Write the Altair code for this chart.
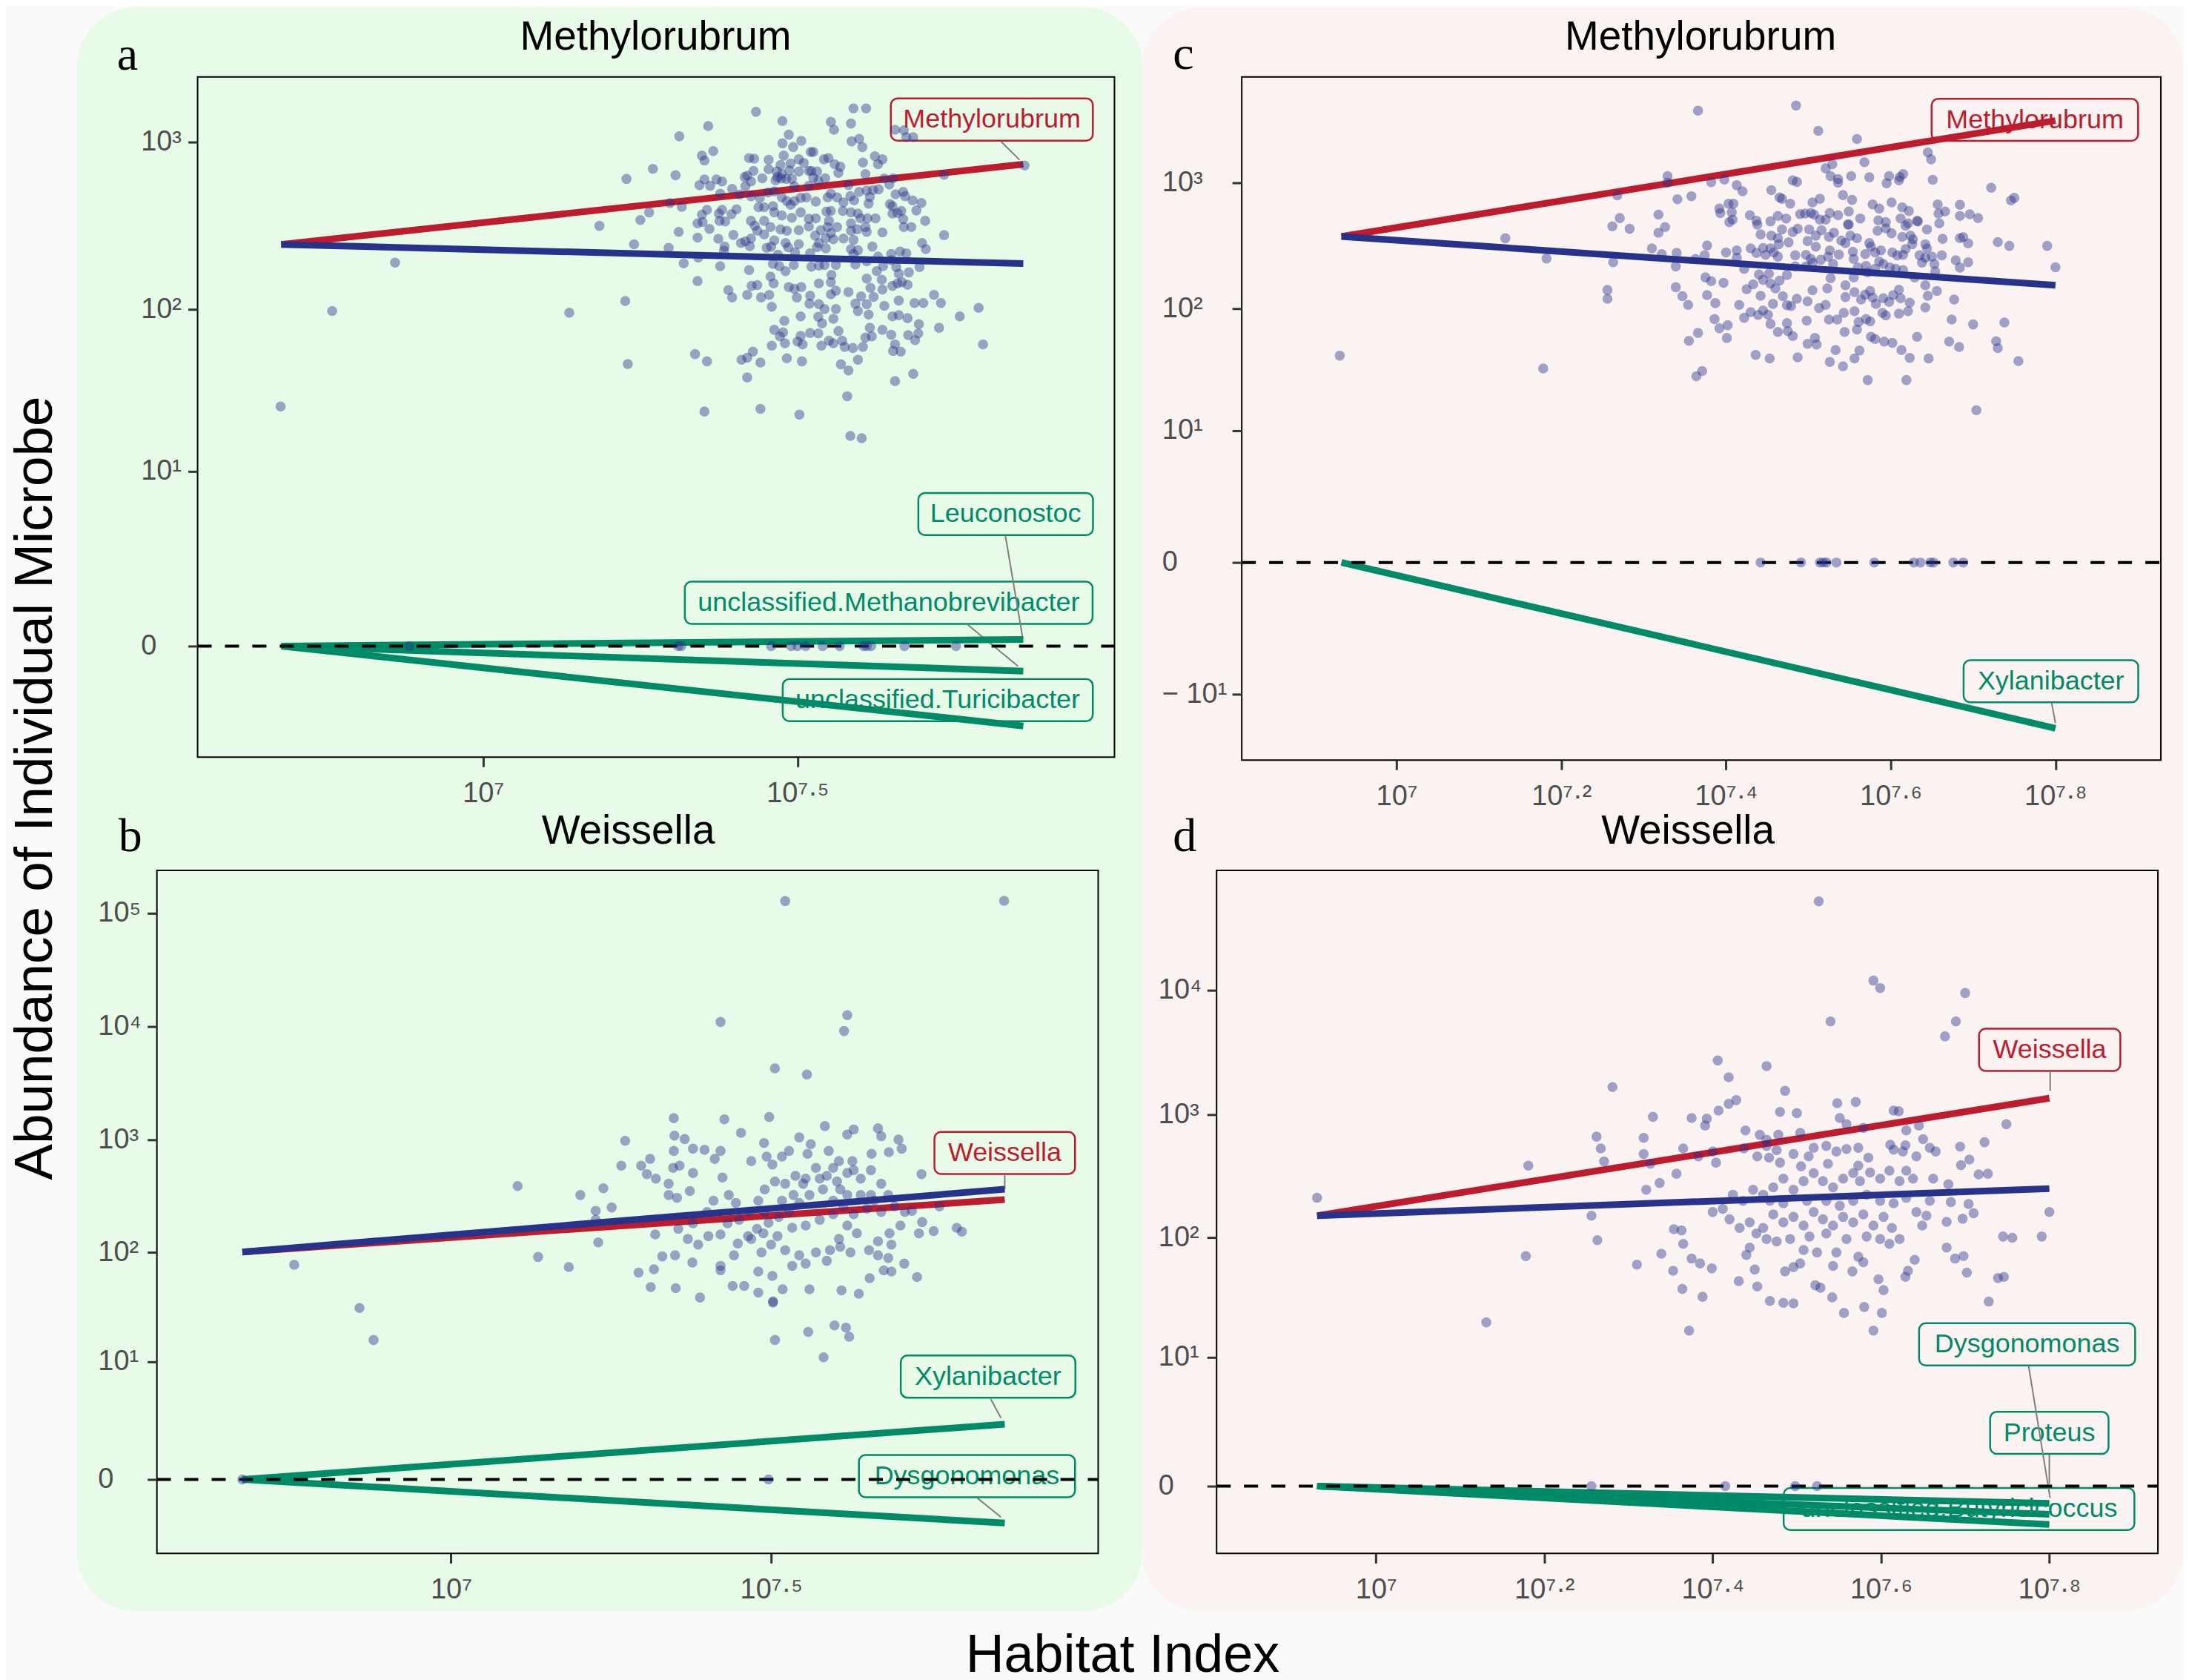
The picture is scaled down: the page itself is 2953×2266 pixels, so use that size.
import altair as alt
import pandas as pd

# ---------------------------------------------------------------- data
# Scatter points: (log10 Weissella [Habitat Index], log10 abundance)
a_points = [
    (6.678,1.41),(6.76,1.99),(6.86,2.28),(7.137,1.98),(7.226,2.05),(7.23,1.67),(7.228,2.78),(7.27,2.84),(7.185,2.5),
    (7.25,2.535),(7.264,2.58),(7.24,2.39),(7.434,3.18),(7.589,3.2),(7.609,3.2),(7.861,2.86),
    (7.358,3.095),(7.312,3.034),(7.476,3.125),(7.553,3.120),(7.585,3.110),(7.558,3.073),(7.655,3.073),(7.669,3.070),
    (7.673,3.029),(7.684,3.029),(7.486,3.044),(7.506,3.007),(7.476,2.992),(7.493,2.970),(7.586,3.004),(7.598,3.019),
    (7.603,2.970),(7.348,2.919),(7.366,2.946),(7.352,2.890),(7.423,2.904),(7.431,2.901),(7.454,2.894),(7.478,2.919),
    (7.525,2.941),(7.521,2.941),(7.502,2.897),(7.489,2.872),(7.473,2.863),(7.454,2.838),(7.510,2.875),(7.542,2.897),
    (7.549,2.904),(7.559,2.868),(7.568,2.853),(7.604,2.878),(7.623,2.915),(7.635,2.897),(7.628,2.868),(7.522,2.828),
    (7.531,2.824),(7.518,2.828),(7.502,2.824),(7.487,2.831),(7.467,2.824),(7.430,2.828),(7.420,2.799),(7.416,2.791),
    (7.444,2.784),(7.306,2.802),(7.352,2.777),(7.344,2.743),(7.371,2.777),(7.380,2.765),(7.361,2.739),(7.396,2.721),
    (7.408,2.687),(7.417,2.736),(7.426,2.765),(7.465,2.772),(7.474,2.783),(7.482,2.780),(7.491,2.780),(7.475,2.809),
    (7.468,2.791),(7.525,2.787),(7.544,2.784),(7.565,2.816),(7.581,2.743),(7.608,2.809),(7.638,2.783),(7.652,2.784),
    (7.646,2.747),(7.733,2.805),(7.495,2.736),(7.518,2.739),(7.533,2.768),
    (7.297,2.636),(7.316,2.614),(7.348,2.567),(7.356,2.596),(7.341,2.515),(7.349,2.523),(7.375,2.574),(7.380,2.596),
    (7.395,2.570),(7.403,2.599),(7.376,2.530),(7.385,2.526),(7.360,2.482),(7.377,2.692),(7.426,2.677),(7.440,2.667),
    (7.453,2.699),(7.463,2.706),(7.475,2.670),(7.483,2.648),(7.489,2.626),(7.495,2.648),(7.505,2.667),(7.514,2.670),
    (7.529,2.645),(7.548,2.670),(7.553,2.692),(7.563,2.670),(7.573,2.640),(7.584,2.677),(7.590,2.652),(7.598,2.703),
    (7.610,2.711),(7.620,2.714),(7.615,2.672),(7.629,2.718),(7.656,2.689),(7.668,2.703),(7.671,2.677),(7.683,2.652),
    (7.697,2.637),(7.647,2.630),(7.651,2.618),(7.613,2.633),(7.438,2.611),(7.447,2.611),(7.461,2.618),(7.463,2.581),
    (7.475,2.562),(7.491,2.548),(7.505,2.581),(7.518,2.542),(7.529,2.545),(7.546,2.586),(7.553,2.589),(7.550,2.530),
    (7.572,2.589),(7.585,2.581),(7.596,2.574),(7.600,2.545),(7.611,2.545),(7.624,2.545),(7.651,2.574),(7.659,2.577),
    (7.665,2.589),(7.668,2.540),(7.689,2.592),(7.703,2.530),(7.681,2.493),(7.669,2.493),(7.426,2.530),(7.432,2.501),
    (7.447,2.530),(7.457,2.493),(7.473,2.479),(7.483,2.471),(7.502,2.474),(7.518,2.496),(7.537,2.474),(7.548,2.493),
    (7.553,2.457),(7.563,2.493),(7.585,2.515),(7.585,2.471),(7.595,2.479),(7.608,2.493),(7.610,2.464),(7.635,2.461),
    (7.733,2.445),
    (7.311,2.464),(7.341,2.430),(7.374,2.423),(7.398,2.446),(7.410,2.398),(7.417,2.408),(7.426,2.424),(7.424,2.379),
    (7.436,2.471),(7.447,2.449),(7.463,2.413),(7.481,2.398),(7.502,2.391),(7.528,2.442),(7.534,2.398),(7.545,2.427),
    (7.557,2.420),(7.573,2.424),(7.589,2.416),(7.619,2.376),(7.698,2.398),(7.704,2.361),(7.295,2.369),(7.384,2.376),
    (7.383,2.351),(7.451,2.369),(7.458,2.376),(7.469,2.328),(7.485,2.372),(7.496,2.342),(7.520,2.336),(7.531,2.372),
    (7.545,2.366),(7.585,2.361),(7.596,2.354),(7.589,2.332),(7.628,2.317),(7.649,2.332),(7.663,2.347),(7.673,2.336),
    (7.342,2.310),(7.319,2.276),(7.377,2.259),(7.423,2.236),(7.461,2.273),(7.471,2.259),(7.481,2.229),(7.494,2.266),
    (7.522,2.256),(7.534,2.263),(7.543,2.266),(7.561,2.266),(7.592,2.269),(7.610,2.288),(7.626,2.229),(7.636,2.259),
    (7.657,2.254),(7.677,2.222),(7.694,2.254),(7.649,2.295),
    (7.341,2.170),(7.390,2.116),(7.396,2.072),(7.420,2.087),(7.427,2.141),(7.436,2.146),(7.442,2.072),(7.455,2.087),
    (7.457,2.197),(7.462,2.156),(7.486,2.134),(7.495,2.123),(7.506,2.134),(7.499,2.071),(7.520,2.082),(7.519,2.034),
    (7.534,2.156),(7.554,2.207),(7.553,2.163),(7.561,2.112),(7.553,2.090),(7.581,2.104),(7.601,2.078),(7.610,2.185),
    (7.616,2.129),(7.621,2.075),(7.635,2.119),(7.634,2.178),(7.651,2.141),(7.659,2.156),(7.661,2.214),(7.666,2.163),
    (7.675,2.148),(7.661,2.053),(7.686,2.038),(7.700,2.038),(7.717,2.087),(7.728,2.038),(7.788,2.009),(7.534,2.031),
    (7.543,2.002),(7.561,2.002),(7.592,2.034),(7.596,1.990),(7.610,2.031),(7.638,2.021),
    (7.459,2.016),(7.505,1.958),(7.533,1.955),(7.539,1.916),(7.557,1.943),(7.613,1.969),(7.651,1.958),(7.661,1.965),
    (7.675,1.947),(7.693,1.911),(7.758,1.958),(7.795,1.789),(7.479,1.931),(7.463,1.877),(7.477,1.862),(7.472,1.837),
    (7.480,1.796),(7.459,1.781),(7.500,1.806),(7.505,1.840),(7.508,1.789),(7.520,1.858),(7.533,1.855),(7.538,1.781),
    (7.550,1.811),(7.557,1.796),(7.565,1.869),(7.571,1.811),(7.575,1.774),(7.588,1.767),(7.604,1.774),(7.608,1.830),
    (7.618,1.837),(7.615,1.889),(7.635,1.877),(7.649,1.847),(7.655,1.789),(7.652,1.749),(7.664,1.745),(7.676,1.845),
    (7.687,1.815),(7.692,1.855),(7.725,1.889),(7.337,1.730),(7.356,1.686),(7.411,1.696),(7.420,1.708),(7.429,1.745),
    (7.441,1.679),(7.483,1.705),(7.507,1.686),(7.569,1.668),(7.581,1.630),(7.596,1.696),(7.684,1.610),(7.655,1.566),
    (7.420,1.588),(7.579,1.473),(7.352,1.378),(7.441,1.395),(7.503,1.359),(7.584,1.226),(7.602,1.212),
]
a_zero_x = [6.883, 7.31, 7.315, 7.458, 7.49, 7.50, 7.513, 7.54, 7.567, 7.605, 7.61, 7.617, 7.67, 7.752]

b_points = [
    (7.522,5.107),(7.864,5.11),(7.421,4.04),(7.619,4.10),(7.614,3.96),(7.506,3.63),(7.556,3.575),(7.497,3.20),(7.427,3.18),
    (7.348,3.19),(7.453,3.06),(7.584,3.12),(7.629,3.09),(7.667,3.10),(7.619,3.045),(7.349,3.035),(7.365,3.005),(7.272,2.99),
    (7.544,3.02),(7.562,2.96),(7.489,2.97),(7.672,3.03),(7.699,3.0),(7.704,2.92),(7.735,2.695),(7.684,2.89),(7.657,2.875),
    (7.59,2.90),(7.627,2.81),(7.606,2.81),(7.557,2.875),(7.528,2.90),(7.517,2.85),(7.493,2.85),(7.502,2.78),(7.469,2.81),
    (7.421,2.90),(7.412,2.83),(7.396,2.91),(7.378,2.92),(7.348,2.90),(7.347,2.75),(7.357,2.77),(7.311,2.83),(7.297,2.77),
    (7.266,2.77),(7.306,2.695),(7.32,2.655),(7.238,2.57),(7.202,2.51),(7.104,2.59),(7.251,2.40),(7.226,2.37),(7.226,2.29),
    (7.23,2.09),(7.319,2.16),(7.34,2.51),(7.34,2.61),(7.353,2.485),(7.373,2.545),(7.378,2.705),(7.424,2.665),(7.434,2.51),
    (7.445,2.44),(7.41,2.46),(7.40,2.36),(7.378,2.26),(7.355,2.21),(7.37,2.12),(7.386,2.07),(7.402,2.145),(7.421,2.16),
    (7.432,2.26),(7.45,2.29),(7.466,2.36),(7.48,2.46),(7.49,2.56),(7.506,2.63),(7.522,2.61),(7.538,2.68),(7.554,2.655),
    (7.57,2.75),(7.587,2.68),(7.603,2.63),(7.619,2.705),(7.64,2.655),(7.656,2.73),(7.672,2.61),(7.683,2.51),(7.693,2.41),
    (7.709,2.36),(7.72,2.37),(7.736,2.27),(7.754,2.19),(7.731,2.17),(7.79,2.22),(7.798,2.185),(7.763,2.41),(7.702,2.24),
    (7.685,2.17),(7.667,2.10),(7.653,2.02),(7.667,1.975),(7.683,1.95),(7.688,2.07),(7.708,1.90),(7.688,1.83),(7.676,1.84),
    (7.654,1.77),(7.728,1.78),(7.634,2.17),(7.619,2.24),(7.606,2.12),(7.592,2.02),(7.587,1.925),(7.608,2.05),(7.624,2.0),
    (7.61,1.66),(7.637,1.63),(7.56,1.67),(7.518,1.67),(7.48,1.64),(7.503,1.56),(7.458,1.70),(7.44,1.70),(7.421,1.88),
    (7.421,1.84),(7.442,1.975),(7.389,1.595),(7.351,1.68),(7.312,1.69),(7.317,1.85),(7.293,1.82),(7.33,1.965),(7.35,1.975),
    (7.377,1.91),(7.48,1.83),(7.502,1.79),(7.533,1.88),(7.554,1.90),(7.57,2.0),(7.544,1.975),(7.522,2.02),(7.50,2.07),
    (7.485,2.0),(7.469,2.12),(7.488,2.17),(7.51,2.145),(7.533,2.22),(7.554,2.24),(7.576,2.29),(7.597,2.34),(7.613,2.41),
    (7.629,2.34),(7.65,2.39),(7.661,2.46),(7.64,2.51),(7.619,2.51),(7.597,2.46),(7.581,2.56),(7.56,2.51),(7.544,2.44),
    (7.528,2.36),(7.512,2.315),(7.496,2.265),(7.478,2.21),(7.464,2.145),(7.448,2.08),(7.49,2.36),(7.517,2.46),(7.535,2.51),
    (7.55,2.61),(7.576,2.655),(7.597,2.75),(7.608,2.56),(7.629,2.73),(7.656,2.51),(7.672,2.36),(7.558,1.28),(7.599,1.34),
    (7.617,1.32),(7.622,1.235),(7.582,1.04),(7.506,1.205),(7.503,1.55),(6.755,1.89),(6.857,1.50),(6.879,1.205),(7.136,1.96),
    (7.184,1.87),
]
b_zero_x = [6.674, 7.496]

c_points = [
    (6.931,1.624),(7.178,1.52),(7.132,2.56),(7.182,2.40),(7.366,3.57),(7.485,3.61),(7.512,3.41),(7.256,2.15),(7.256,2.08),
    (7.263,2.37),(7.268,2.90),(7.271,2.72),(7.262,2.655),(7.746,2.86),(7.75,2.88),(7.722,2.96),(7.79,2.50),(7.80,2.33),
    (7.744,2.50),(7.73,2.53),(7.738,1.89),(7.728,1.74),(7.73,1.685),(7.755,1.58),(7.704,1.175),(7.70,1.875),(7.696,2.75),
    (7.706,2.72),(7.688,2.57),(7.694,2.52),(7.694,2.37),
    (7.559,3.345),(7.645,3.240),(7.649,3.185),(7.568,3.162),(7.529,3.146),(7.521,3.113),(7.527,3.052),(7.536,3.029),
    (7.536,3.000),(7.552,3.052),(7.574,3.043),(7.598,3.052),(7.595,2.996),(7.610,3.019),(7.615,3.068),(7.611,3.045),
    (7.651,3.023),(7.329,3.052),(7.329,3.000),(7.382,3.004),(7.398,3.025),(7.413,2.980),(7.420,2.932),(7.481,3.019),
    (7.486,3.006),(7.455,2.941),(7.465,2.883),(7.468,2.873),(7.478,2.834),(7.341,2.869),(7.358,2.893),(7.542,2.902),
    (7.553,2.864),(7.505,2.844),(7.514,2.873),(7.578,2.828),(7.586,2.795),(7.601,2.844),(7.614,2.805),(7.622,2.776),
    (7.657,2.828),(7.666,2.772),(7.684,2.825),(7.392,2.795),(7.393,2.760),(7.403,2.834),(7.409,2.834),(7.407,2.766),
    (7.408,2.708),(7.404,2.688),(7.429,2.743),(7.437,2.698),(7.438,2.669),(7.454,2.694),(7.463,2.737),(7.473,2.717),
    (7.490,2.752),(7.496,2.756),(7.503,2.760),(7.507,2.747),(7.514,2.708),(7.521,2.708),(7.526,2.760),(7.536,2.743),
    (7.549,2.772),(7.549,2.669),(7.563,2.717),(7.585,2.702),(7.594,2.688),(7.612,2.717),(7.618,2.659),(7.621,2.678),
    (7.632,2.698),(7.658,2.756),(7.659,2.678),(7.684,2.737),(7.318,2.747),(7.326,2.649),(7.318,2.604),(7.283,2.635),
    (7.310,2.480),(7.322,2.435),(7.340,2.444),(7.377,2.503),(7.374,2.425),(7.363,2.396),(7.339,2.337),(7.400,2.448),
    (7.413,2.464),(7.413,2.406),(7.430,2.480),(7.437,2.444),(7.442,2.591),(7.445,2.483),(7.454,2.480),(7.455,2.581),
    (7.463,2.561),(7.464,2.513),(7.468,2.630),(7.476,2.528),(7.481,2.610),(7.487,2.635),(7.501,2.630),(7.509,2.581),
    (7.499,2.538),(7.509,2.493),(7.516,2.624),(7.525,2.571),(7.531,2.604),(7.540,2.542),(7.545,2.522),(7.551,2.581),
    (7.559,2.561),(7.548,2.669),(7.574,2.522),(7.576,2.493),(7.584,2.620),(7.601,2.600),(7.594,2.639),(7.614,2.571),
    (7.624,2.581),(7.627,2.552),(7.626,2.513),(7.633,2.694),(7.644,2.630),(7.642,2.513),(7.644,2.480),(7.663,2.556),
    (7.684,2.561),(7.448,2.429),(7.458,2.448),(7.463,2.415),(7.484,2.425),(7.497,2.429),(7.503,2.396),(7.515,2.390),
    (7.524,2.415),(7.526,2.464),(7.537,2.431),(7.554,2.454),(7.555,2.396),(7.569,2.435),(7.581,2.448),(7.588,2.464),
    (7.586,2.376),(7.602,2.448),(7.608,2.425),(7.615,2.429),(7.618,2.474),(7.635,2.425),(7.638,2.367),(7.642,2.406),
    (7.650,2.415),(7.653,2.357),(7.662,2.425),(7.679,2.386),(7.684,2.328),(7.422,2.318),(7.440,2.273),(7.445,2.230),
    (7.452,2.279),(7.454,2.201),(7.460,2.162),(7.465,2.224),(7.474,2.269),(7.484,2.337),(7.497,2.337),(7.505,2.367),
    (7.530,2.357),(7.527,2.244),(7.545,2.187),(7.555,2.250),(7.560,2.328),(7.570,2.341),(7.572,2.289),(7.581,2.318),
    (7.591,2.357),(7.599,2.328),(7.606,2.318),(7.615,2.308),(7.629,2.250),(7.642,2.187),(7.654,2.298),(7.375,2.250),
    (7.382,2.220),(7.397,2.207),(7.339,2.172),(7.347,2.100),(7.354,2.031),(7.377,2.109),(7.387,2.045),(7.425,2.156),
    (7.433,2.195),(7.442,2.103),(7.457,2.039),(7.469,2.100),(7.474,2.029),(7.479,2.022),(7.486,2.080),(7.499,2.059),
    (7.505,2.148),(7.513,2.006),(7.521,2.031),(7.523,2.162),(7.545,2.094),(7.556,2.133),(7.564,2.074),(7.569,2.113),
    (7.575,2.142),(7.578,2.090),(7.582,2.039),(7.591,2.084),(7.598,2.055),(7.603,2.109),(7.610,2.152),(7.612,2.084),
    (7.623,2.049),(7.645,2.103),(7.656,2.142),(7.642,2.010),(7.677,2.074),(7.416,2.031),(7.422,1.928),(7.430,1.973),
    (7.439,1.951),(7.445,1.986),(7.451,1.953),(7.454,1.879),(7.463,1.815),(7.474,1.885),(7.475,1.821),(7.481,1.782),
    (7.498,1.905),(7.508,1.766),(7.510,1.714),(7.525,1.914),(7.535,1.914),(7.543,1.967),(7.544,1.815),(7.556,1.981),
    (7.561,1.895),(7.559,1.834),(7.570,1.918),(7.575,1.899),(7.576,1.776),(7.581,1.758),(7.592,1.737),(7.602,1.727),
    (7.594,1.947),(7.590,1.967),(7.610,1.961),(7.621,1.981),(7.632,1.776),(7.674,1.914),(7.671,1.737),(7.683,1.694),
    (7.386,1.918),(7.392,1.844),(7.402,1.869),(7.401,1.766),(7.366,1.807),(7.355,1.743),(7.499,1.719),(7.533,1.669),
    (7.526,1.573),(7.542,1.538),(7.556,1.601),(7.562,1.665),(7.613,1.669),(7.623,1.606),(7.646,1.601),(7.436,1.630),
    (7.453,1.601),(7.487,1.610),(7.371,1.499),(7.364,1.456),(7.572,1.425),(7.619,1.425),
]
c_zero_x = [7.442, 7.491, 7.514, 7.518, 7.522, 7.534, 7.58, 7.628, 7.636, 7.648, 7.652, 7.676, 7.688]

d_points = [
    (7.526,4.72),(7.591,4.08),(7.599,4.02),(7.70,3.98),(7.54,3.75),(7.689,3.75),(7.676,3.63),(7.406,3.435),(7.419,3.30),
    (7.464,3.39),(7.281,3.22),(7.486,3.19),(7.428,3.115),(7.419,3.085),(7.329,2.98),(7.375,2.97),(7.393,2.965),(7.391,2.91),
    (7.407,3.03),(7.48,3.02),(7.50,3.01),(7.548,3.09),(7.57,3.10),(7.615,3.03),(7.621,3.025),(7.551,2.97),(7.559,2.92),
    (7.579,2.89),(7.63,2.87),(7.645,2.91),(7.749,2.92),(7.65,2.80),(7.629,2.75),(7.611,2.755),(7.615,2.715),(7.626,2.70),
    (7.573,2.73),(7.559,2.72),(7.547,2.70),(7.535,2.745),(7.52,2.73),(7.504,2.85),(7.478,2.835),(7.464,2.795),(7.456,2.835),
    (7.439,2.87),(7.464,2.745),(7.437,2.725),(7.453,2.66),(7.467,2.65),(7.48,2.61),(7.496,2.68),(7.514,2.66),(7.262,2.82),
    (7.267,2.725),(7.271,2.62),(7.318,2.81),(7.318,2.68),(7.326,2.60),(7.365,2.725),(7.40,2.70),(7.404,2.61),(7.383,2.66),
    (7.181,2.585),(7.357,2.52),(7.337,2.445),(7.321,2.39),(7.256,2.18),(7.263,1.98),(7.178,1.85),(7.131,1.30),(7.31,1.78),
    (7.339,1.87),(7.354,2.07),(7.363,2.06),(7.365,1.95),(7.353,1.73),(7.375,1.83),(7.385,1.79),(7.399,1.75),(7.364,1.58),
    (7.388,1.515),(7.372,1.23),(7.431,1.645),(7.453,1.60),(7.45,1.74),(7.44,1.86),(7.444,1.92),(7.468,1.48),(7.484,1.465),
    (7.496,1.46),(7.486,1.725),(7.496,1.76),(7.522,1.61),(7.528,1.59),(7.542,1.51),(7.556,1.38),(7.58,1.43),(7.601,1.38),
    (7.591,1.23),(7.603,1.57),(7.597,1.66),(7.573,1.845),(7.579,1.80),(7.566,1.725),(7.547,1.88),(7.543,1.77),(7.524,1.88),
    (7.508,1.90),(7.504,1.79),(7.629,1.68),(7.632,1.73),(7.64,1.82),(7.678,1.92),(7.688,1.83),(7.698,1.85),(7.702,1.715),
    (7.728,1.475),(7.739,1.67),(7.746,1.68),(7.745,2.01),(7.756,2.0),(7.791,2.01),(7.80,2.21),(7.71,2.20),(7.704,2.275),
    (7.697,2.155),(7.683,2.29),(7.678,2.13),(7.654,2.18),(7.649,2.10),(7.658,2.30),(7.662,2.48),(7.68,2.435),(7.695,2.59),
    (7.705,2.635),(7.694,2.74),(7.716,2.515),(7.727,2.52),(7.723,2.775),(7.665,2.70),(7.658,2.73),(7.642,2.66),(7.63,2.545),
    (7.638,2.48),(7.622,2.46),(7.61,2.545),(7.599,2.48),(7.587,2.53),(7.575,2.46),(7.567,2.525),(7.555,2.48),(7.543,2.41),
    (7.531,2.46),(7.52,2.525),(7.508,2.46),(7.496,2.39),(7.484,2.48),(7.472,2.41),(7.46,2.35),(7.448,2.39),(7.436,2.30),
    (7.424,2.35),(7.412,2.235),(7.40,2.21),(7.42,2.15),(7.432,2.08),(7.444,2.125),(7.46,2.08),(7.472,2.19),(7.484,2.125),
    (7.496,2.17),(7.508,2.10),(7.52,2.21),(7.531,2.15),(7.543,2.10),(7.555,2.17),(7.567,2.125),(7.579,2.19),(7.591,2.10),
    (7.603,2.17),(7.613,2.08),(7.622,1.99),(7.61,1.95),(7.599,1.99),(7.583,2.01),(7.559,1.99),(7.535,2.035),(7.515,2.01),
    (7.492,1.99),(7.476,1.97),(7.464,1.99),(7.452,2.035),(7.567,2.30),(7.583,2.35),(7.599,2.30),(7.615,2.28),(7.63,2.325),
    (7.642,2.21),(7.551,2.26),(7.535,2.30),(7.512,2.30),(7.484,2.28),(7.468,2.30),(7.585,2.65),(7.573,2.585),(7.537,2.60),
    (7.476,2.71),(7.505,2.58),(6.93,2.325),
]
d_zero_x = [7.256, 7.415, 7.498, 7.524]

# Fitted lines: (series, colour group, value at start, value at end), x given as log10 range
a_line_x = (6.679, 7.859)
a_lines = [("Leuconostoc", "green", 0, 0.096), ("unclassified.Methanobrevibacter", "green", 0, -0.41),
           ("unclassified.Turicibacter", "green", 0, -1.99), ("Methylorubrum", "red", 245, 737),
           ("overall", "blue", 245, 188)]
b_line_x = (6.674, 7.865)
b_lines = [("Xylanibacter", "green", 0, 2.07), ("Dysgonomonas", "green", 0, -1.43),
           ("Weissella", "red", 101, 295), ("overall", "blue", 101, 364)]
c_line_x = (6.933, 7.80)
c_lines = [("Xylanibacter", "green", 0, -19.4), ("Methylorubrum", "red", 375, 3100),
           ("overall", "blue", 375, 154)]
d_line_x = (6.930, 7.80)
d_lines = [("Proteus", "green", 0, -0.38), ("Dysgonomonas", "green", 0, -0.69),
           ("unclassified.Butyricicoccus", "green", 0, -1.04), ("Weissella", "red", 151, 1350),
           ("overall", "blue", 151, 251)]

# Repelled labels: (text, colour group, log10 x, y value)
a_labels = [("Methylorubrum", "red", 7.809, 1362), ("Leuconostoc", "green", 7.831, 5.11),
            ("unclassified.Methanobrevibacter", "green", 7.645, 0.811),
            ("unclassified.Turicibacter", "green", 7.723, -1.097)]
b_labels = [("Weissella", "red", 7.865, 762), ("Xylanibacter", "green", 7.839, 7.1),
            ("Dysgonomonas", "green", 7.806, 0.07)]
c_labels = [("Methylorubrum", "red", 7.775, 3140), ("Xylanibacter", "green", 7.7945, -7.68)]
d_labels = [("Weissella", "red", 7.8004, 3322), ("Dysgonomonas", "green", 7.7736, 12.93),
            ("Proteus", "green", 7.80, 1.69), ("unclassified.Butyricicoccus", "green", 7.6927, -0.531)]

# Label connectors: (log10 x1, y1, log10 x2, y2)
a_connectors = [(7.8235, 1009, 7.853, 783), (7.8306, 3.53, 7.858, 0.12), (7.769, 0.355, 7.8506, -0.315)]
b_connectors = [(7.865, 492, 7.865, 364), (7.843, 4.15, 7.859, 2.49), (7.822, -0.456, 7.859, -1.15)]
c_connectors = [(7.7954, -11.9, 7.80, -17.6)]
d_connectors = [(7.801, 2244, 7.801, 1548), (7.7754, 8.29, 7.8009, -0.246), (7.80, 0.807, 7.80, 0.042)]

# Axis ticks
ab_xticks = [7, 7.5]
cd_xticks = [7, 7.2, 7.4, 7.6, 7.8]
a_yticks = [0, 10, 100, 1000]
b_yticks = [0, 10, 100, 1000, 10000, 100000]
c_yticks = [-10, 0, 10, 100, 1000]
d_yticks = [0, 10, 100, 1000, 10000]

# ---------------------------------------------------------------- style
FONT = "Liberation Sans"
SERIF = "Liberation Serif"
COL = {"red": "#bd1b2e", "blue": "#27338b", "green": "#008a67"}
NAVY = "#27338b"
GREEN_BG = "#e8fae8"
PINK_BG = "#fbf2f2"
SUP = {"0": "⁰", "1": "¹", "2": "²", "3": "³", "4": "⁴", "5": "⁵", "6": "⁶",
       "7": "⁷", "8": "⁸", "9": "⁹", ".": "·"}


def sup(s):
    return "".join(SUP[c] for c in s)


def ylab(v):
    if v == 0:
        return "0"
    k = len(str(int(abs(v)))) - 1
    return ("− " if v < 0 else "") + "10" + sup(str(k))


def expr(vals, labs):
    e = "'%s'" % labs[-1]
    for i in range(len(vals) - 2, -1, -1):
        mid = (vals[i] + vals[i + 1]) / 2
        e = "datum.value < %r ? '%s' : %s" % (mid, labs[i], e)
    return e


ONE = pd.DataFrame({"k": [0]})


def panel(g, pts, zeros, line_x, lines, labels, label_w, conns):
    W, H, L, R, T, B = g["W"], g["H"], g["L"], g["R"], g["T"], g["B"]
    xs = alt.Scale(type="log", domain=[10 ** g["xdom"][0], 10 ** g["xdom"][1]], range=[L, R], nice=False)
    ys = alt.Scale(type="symlog", constant=1, domain=list(g["ydom"]), range=[B, T], nice=False, zero=False)
    xvals = [10 ** e for e in g["xt"]]
    xaxis = alt.Axis(values=xvals, labelExpr=expr(xvals, ["10" + sup(str(e)) for e in g["xt"]]),
                     title=None, grid=False, domain=False, tickSize=13, tickWidth=3, tickColor="#333333",
                     labelFont=FONT, labelFontSize=38, labelColor="#4d4d4d", labelPadding=47,
                     labelBaseline="alphabetic", offset=-(H - B), labelOverlap=False, labelFlush=False,
                     zindex=2)
    yaxis = alt.Axis(values=g["yt"], labelExpr=expr(g["yt"], [ylab(v) for v in g["yt"]]),
                     title=None, grid=False, domain=False, tickSize=13, tickWidth=3, tickColor="#333333",
                     labelFont=FONT, labelFontSize=38, labelColor="#4d4d4d", labelPadding=g["ylabpad"],
                     labelAlign="left", offset=-L, labelOverlap=False, labelFlush=False, zindex=2)

    def X(f):
        return alt.X(f, type="quantitative", scale=xs, axis=xaxis)

    def Y(f):
        return alt.Y(f, type="quantitative", scale=ys, axis=yaxis)

    layers = []
    corners = ({"cornerRadiusTopLeft": 80, "cornerRadiusTopRight": 80} if g["corners"] == "top"
               else {"cornerRadiusBottomLeft": 80, "cornerRadiusBottomRight": 80})
    layers.append(alt.Chart(ONE).mark_rect(fill=g["bg"], **corners).encode(
        x=alt.value(0), x2=alt.value(W), y=alt.value(0), y2=alt.value(H)))

    # label boxes
    for (txt, c, lx, ly), w in zip(labels, label_w):
        df = pd.DataFrame({"x": [10 ** lx], "y": [ly]})
        layers.append(alt.Chart(df).mark_rect(
            fillOpacity=0, stroke=COL[c], strokeWidth=2.5, cornerRadius=9,
            xOffset=-w / 2, x2Offset=w / 2, yOffset=-28.5, y2Offset=28.5).encode(
            x=X("x"), x2="x", y=Y("y"), y2="y"))
    tdf = pd.DataFrame({"x": [10 ** l[2] for l in labels], "y": [l[3] for l in labels],
                        "text": [l[0] for l in labels], "color": [COL[l[1]] for l in labels]})
    layers.append(alt.Chart(tdf).mark_text(font=FONT, fontSize=36, baseline="middle", align="center").encode(
        x=X("x"), y=Y("y"), text="text:N", color=alt.Color("color:N", scale=None)))

    # connectors
    if conns:
        cdf = pd.DataFrame({"x": [10 ** c[0] for c in conns], "y": [c[1] for c in conns],
                            "x2": [10 ** c[2] for c in conns], "y2": [c[3] for c in conns]})
        layers.append(alt.Chart(cdf).mark_rule(color="#7f7f7f", strokeWidth=2).encode(
            x=X("x"), y=Y("y"), x2="x2", y2="y2"))

    # fitted lines
    rows = []
    for name, grp, y0, y1 in lines:
        rows.append({"series": name, "grp": grp, "x": 10 ** line_x[0], "y": y0})
        rows.append({"series": name, "grp": grp, "x": 10 ** line_x[1], "y": y1})
    ldf = pd.DataFrame(rows)
    for grp in ["green", "red", "blue"]:
        sub = ldf[ldf.grp == grp]
        if len(sub):
            layers.append(alt.Chart(sub).mark_line(color=COL[grp], strokeWidth=9, strokeCap="butt").encode(
                x=X("x"), y=Y("y"), detail="series:N"))

    # zero reference
    layers.append(alt.Chart(pd.DataFrame({"y": [0.0]})).mark_rule(
        color="black", strokeWidth=4, strokeDash=[19, 18]).encode(
        y=Y("y"), x=alt.value(L), x2=alt.value(R)))

    # points
    pdf = pd.DataFrame({"x": [10 ** p[0] for p in pts] + [10 ** z for z in zeros],
                        "y": [10 ** p[1] for p in pts] + [0.0] * len(zeros)})
    layers.append(alt.Chart(pdf).mark_circle(size=185, opacity=0.43, color=NAVY).encode(x=X("x"), y=Y("y")))

    # frame, title, letter
    layers.append(alt.Chart(ONE).mark_rect(fillOpacity=0, stroke="black", strokeWidth=2).encode(
        x=alt.value(L), x2=alt.value(R), y=alt.value(T), y2=alt.value(B)))
    layers.append(alt.Chart(ONE).mark_text(font=FONT, fontSize=55, align="center", baseline="alphabetic",
                                          color="black", text=g["title"]).encode(
        x=alt.value(g["tx"]), y=alt.value(g["ty"])))
    layers.append(alt.Chart(ONE).mark_text(font=SERIF, fontSize=64, align="left", baseline="alphabetic",
                                          color="black", text=g["letter"]).encode(
        x=alt.value(g["lx"]), y=alt.value(g["ly"])))
    return alt.layer(*layers).properties(width=W, height=H)


gA = dict(W=1440, H=1085, L=163, R=1402, T=94, B=1013, xdom=(6.546, 8.004), ydom=(-3.58, 2442),
          xt=ab_xticks, yt=a_yticks, ylabpad=64, title="Methylorubrum", tx=782, ty=57,
          letter="a", lx=54, ly=84, bg=GREEN_BG, corners="top")
gB = dict(W=1440, H=1082, L=108, R=1380, T=81, B=1004, xdom=(6.5405, 8.011), ydom=(-3.51, 239000),
          xt=ab_xticks, yt=b_yticks, ylabpad=67, title="Weissella", tx=745, ty=45,
          letter="b", lx=56, ly=55, bg=GREEN_BG, corners="bottom")
gC = dict(W=1406, H=1085, L=134, R=1376, T=94, B=1017, xdom=(6.812, 7.928), ydom=(-35.4, 6855),
          xt=cd_xticks, yt=c_yticks, ylabpad=95, title="Methylorubrum", tx=754, ty=57,
          letter="c", lx=41, ly=83, bg=PINK_BG, corners="top")
gD = dict(W=1406, H=1082, L=100, R=1372, T=81, B=1004, xdom=(6.8106, 7.929), ydom=(-2.5, 93300),
          xt=cd_xticks, yt=d_yticks, ylabpad=66, title="Weissella", tx=737, ty=45,
          letter="d", lx=41, ly=55, bg=PINK_BG, corners="bottom")

pa = panel(gA, a_points, a_zero_x, a_line_x, a_lines, a_labels, [273, 236, 551, 419], a_connectors)
pb = panel(gB, b_points, b_zero_x, b_line_x, b_lines, b_labels, [190, 236, 292], b_connectors)
pc = panel(gC, c_points, c_zero_x, c_line_x, c_lines, c_labels, [279, 236], c_connectors)
pd_ = panel(gD, d_points, d_zero_x, d_line_x, d_lines, d_labels, [191, 292, 160, 474], d_connectors)

ytitle = alt.Chart(ONE).mark_text(font=FONT, fontSize=73, angle=270, align="center", baseline="middle",
                                  color="black", text="Abundance of Individual Microbe").encode(
    x=alt.value(40), y=alt.value(1055)).properties(width=96, height=2167)
xtitle = alt.Chart(ONE).mark_text(font=FONT, fontSize=72, align="center", baseline="alphabetic",
                                  color="black", text="Habitat Index").encode(
    x=alt.value(1509), y=alt.value(82)).properties(width=2942, height=91)

left = alt.vconcat(pa, pb, spacing=0)
right = alt.vconcat(pc, pd_, spacing=0)
grid = alt.hconcat(left, right, spacing=0)
row = alt.hconcat(ytitle, grid, spacing=0)
chart = alt.vconcat(row, xtitle, spacing=0).properties(
    padding=0, background="#fafafa").configure_view(stroke=None)

chart.save("out.html", embed_options={"renderer": "svg", "actions": False})
